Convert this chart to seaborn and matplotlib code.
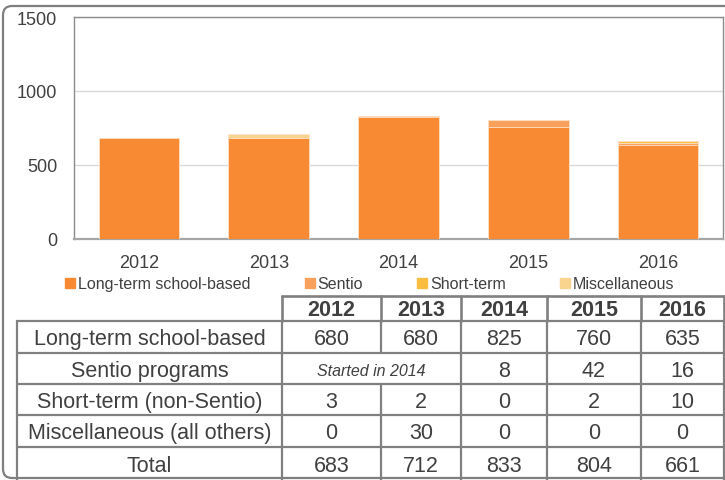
import matplotlib
matplotlib.use("Agg")
import matplotlib.pyplot as plt
import seaborn as sns
import numpy as np
import pandas as pd
from matplotlib.patches import FancyBboxPatch
from matplotlib.lines import Line2D


# ==========================
# DATA
# ==========================

years = ["2012", "2013", "2014", "2015", "2016"]

long_term = [680, 680, 825, 760, 635]
sentio = [0, 0, 8, 42, 16]
short_term = [3, 2, 0, 2, 10]
misc = [0, 30, 0, 0, 0]
totals = [683, 712, 833, 804, 661]

series_names = ["Long-term school-based", "Sentio", "Short-term", "Miscellaneous"]
series_colors = ["#F78A32", "#F9A15C", "#FBBD40", "#F9D48E"]

row_labels = [
    "Long-term school-based",
    "Sentio programs",
    "Short-term (non-Sentio)",
    "Miscellaneous (all others)",
    "Total",
]
sentio_note = "Started in 2014"
sentio_first = 2   # first year with Sentio data

y_ticks = [0, 500, 1000, 1500]


# ==========================
# STYLE
# ==========================

sns.set_theme(style="white")
plt.rcParams["font.family"] = ["Liberation Sans", "DejaVu Sans"]

text_col = "#404040"
line_col = "#808080"

W, H = 725, 481
fig = plt.figure(figsize=(W / 100, H / 100), dpi=100)


# ==========================
# STACKED BARS
# ==========================

ax = fig.add_axes([74 / W, 1 - 240 / H, (723 - 74) / W, (240 - 18) / H])

df = pd.DataFrame({"year": years})
for name, vals in zip(series_names, [long_term, sentio, short_term, misc]):
    df[name] = vals

cum = df[series_names].cumsum(axis=1)

# draw the tallest stack first so the lower parts sit on top of it
for name, color in reversed(list(zip(series_names, series_colors))):
    sns.barplot(
        x=df["year"],
        y=cum[name],
        color=color,
        saturation=1,
        width=0.62,
        edgecolor="#FCE3CC",
        linewidth=0.6,
        ax=ax,
        zorder=3,
    )

ax.set_ylim(0, 1500)
ax.set_yticks(y_ticks)
ax.set_xlim(-0.5, 4.5)
ax.set_xlabel("")
ax.set_ylabel("")
ax.yaxis.grid(True, color="#D9D9D9", linewidth=1.0, zorder=0)
ax.xaxis.grid(False)
for side in ["top", "right", "left"]:
    ax.spines[side].set_color("#8C8C8C")
    ax.spines[side].set_linewidth(1.0)
ax.spines["bottom"].set_color("#A6A6A6")
ax.spines["bottom"].set_linewidth(1.6)
ax.tick_params(axis="x", length=0, pad=11, labelsize=13, labelcolor=text_col)
ax.tick_params(axis="y", length=0, pad=12, labelsize=13, labelcolor=text_col)


# ==========================
# LEGEND
# ==========================

handles = [
    Line2D([], [], marker="s", linestyle="", markersize=6.5, color=c)
    for c in series_colors
]
fig.legend(
    handles,
    series_names,
    loc="center",
    bbox_to_anchor=(370 / W, 1 - 285 / H),
    ncol=4,
    frameon=False,
    fontsize=11.5,
    labelcolor=text_col,
    handlelength=0.6,
    handletextpad=0.2,
    columnspacing=3.4,
    borderaxespad=0,
)


# ==========================
# TABLE
# ==========================

tb = fig.add_axes([0, 0, 1, 1])
tb.set_xlim(0, W)
tb.set_ylim(H, 0)
tb.axis("off")

col_x = [282, 381, 461, 547, 641, 724]
left_x = 17
head_top, head_bot = 297, 322
row_y = [322, 354, 385, 416, 448, 481]
fs = 15.5

# outer rounded frame
frame = FancyBboxPatch(
    (3, 7), 760, 472,
    boxstyle="round,pad=0,rounding_size=9",
    fill=False, edgecolor="#7F7F7F", linewidth=1.6,
)
tb.add_patch(frame)

# header
tb.plot([col_x[0], col_x[-1]], [head_top, head_top], color=line_col, lw=1.9)
for x in col_x:
    tb.plot([x, x], [head_top, head_bot], color=line_col, lw=1.9)
for i, yr in enumerate(years):
    tb.text((col_x[i] + col_x[i + 1]) / 2, (head_top + head_bot) / 2 + 1, yr,
            ha="center", va="center", fontsize=fs, fontweight="bold",
            color=text_col)

# body rows
for y in row_y[:-1]:
    tb.plot([left_x, col_x[-1]], [y, y], color=line_col, lw=1.6)

for r in range(len(row_labels)):
    y0, y1 = row_y[r], row_y[r + 1]
    xs = [left_x] + col_x
    if r == 1:
        xs = [x for i, x in enumerate(xs) if i != 2]
    for x in xs:
        tb.plot([x, x], [y0, y1], color=line_col, lw=1.6)

table_rows = [long_term, sentio, short_term, misc, totals]
for r, (label, vals) in enumerate(zip(row_labels, table_rows)):
    yc = (row_y[r] + row_y[r + 1]) / 2 + 2
    tb.text((left_x + col_x[0]) / 2, yc, label, ha="center", va="center",
            fontsize=fs, color=text_col)
    for i, v in enumerate(vals):
        if r == 1 and i < sentio_first:
            continue
        tb.text((col_x[i] + col_x[i + 1]) / 2, yc, str(v), ha="center",
                va="center", fontsize=fs, color=text_col)

tb.text((col_x[0] + col_x[sentio_first]) / 2, (row_y[1] + row_y[2]) / 2 + 2,
        sentio_note, ha="center", va="center", fontsize=11.5,
        style="italic", color=text_col)

plt.savefig("out.png", dpi=100)
plt.close()
